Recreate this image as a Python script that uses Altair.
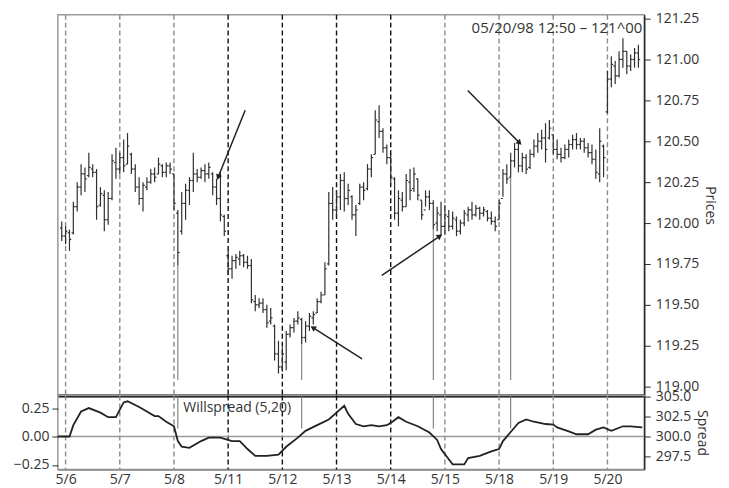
import json
import math
import altair as alt
import pandas as pd

# ---------------- data ----------------
days = ["5/6", "5/7", "5/8", "5/11", "5/12", "5/13", "5/14", "5/15", "5/18", "5/19", "5/20"]
BARS_PER_DAY = 14
FIRST_BAR = -1

high = [120.01, 119.98, 119.96, 120.13, 120.25, 120.36, 120.34, 120.43, 120.36, 120.33,
        120.22, 120.20, 120.19, 120.42, 120.46, 120.43, 120.51, 120.55, 120.43, 120.36,
        120.28, 120.25, 120.28, 120.33, 120.34, 120.40, 120.36, 120.37, 120.37, 120.30,
        120.08, 120.19, 120.24, 120.28, 120.43, 120.33, 120.34, 120.36, 120.37, 120.31,
        120.27, 120.31, 120.05, 119.83, 119.80, 119.81, 119.83, 119.81, 119.80, 119.78,
        119.56, 119.54, 119.54, 119.50, 119.48, 119.38, 119.28, 119.24, 119.34, 119.38,
        119.42, 119.46, 119.42, 119.40, 119.45, 119.46, 119.54, 119.58, 119.76, 120.19,
        120.22, 120.20, 120.30, 120.31, 120.24, 120.17, 120.11, 120.24, 120.25, 120.36,
        120.42, 120.69, 120.72, 120.58, 120.48, 120.42, 120.28, 120.20, 120.19, 120.30,
        120.33, 120.34, 120.27, 120.14, 120.20, 120.20, 120.14, 120.10, 120.13, 120.11,
        120.08, 120.07, 120.04, 120.02, 120.08, 120.10, 120.13, 120.11, 120.10, 120.10,
        120.08, 120.07, 120.04, 120.14, 120.33, 120.36, 120.43, 120.49, 120.49, 120.43,
        120.42, 120.45, 120.51, 120.55, 120.57, 120.61, 120.63, 120.54, 120.51, 120.46,
        120.48, 120.51, 120.54, 120.55, 120.52, 120.52, 120.49, 120.48, 120.45, 120.58,
        120.48, 120.93, 121.02, 120.99, 121.05, 121.13, 121.05, 121.03, 121.07, 121.09]
low = [119.89, 119.87, 119.83, 119.93, 120.07, 120.17, 120.19, 120.28, 120.28, 120.02,
       120.10, 119.95, 119.99, 120.14, 120.27, 120.30, 120.31, 120.36, 120.30, 120.19,
       120.11, 120.07, 120.20, 120.24, 120.25, 120.30, 120.28, 120.28, 120.30, 120.08,
       119.74, 119.93, 120.02, 120.11, 120.19, 120.25, 120.27, 120.25, 120.27, 120.17,
       120.11, 120.01, 119.92, 119.68, 119.66, 119.72, 119.74, 119.73, 119.72, 119.51,
       119.46, 119.48, 119.45, 119.36, 119.38, 119.16, 119.08, 119.09, 119.10, 119.30,
       119.33, 119.38, 119.26, 119.27, 119.34, 119.38, 119.45, 119.51, 119.56, 119.74,
       120.02, 120.04, 120.08, 120.07, 120.11, 120.02, 119.92, 120.11, 120.14, 120.20,
       120.28, 120.42, 120.52, 120.43, 120.36, 120.25, 120.02, 119.98, 120.07, 120.10,
       120.14, 120.19, 120.14, 120.02, 120.10, 120.08, 119.96, 119.95, 119.92, 119.93,
       119.95, 119.96, 119.92, 119.93, 119.98, 120.01, 120.02, 120.04, 120.02, 120.04,
       120.01, 119.99, 119.95, 120.02, 120.16, 120.24, 120.28, 120.34, 120.31, 120.31,
       120.30, 120.33, 120.40, 120.43, 120.45, 120.37, 120.51, 120.42, 120.39, 120.37,
       120.39, 120.40, 120.45, 120.45, 120.45, 120.43, 120.40, 120.36, 120.27, 120.25,
       120.28, 120.67, 120.83, 120.85, 120.89, 120.95, 120.91, 120.93, 120.95, 120.95]
open_ = [119.97, 119.92, 119.94, 119.94, 120.10, 120.22, 120.30, 120.29, 120.33, 120.31,
         120.11, 120.17, 120.02, 120.15, 120.37, 120.33, 120.40, 120.36, 120.42, 120.33,
         120.22, 120.15, 120.22, 120.25, 120.30, 120.30, 120.35, 120.31, 120.35, 120.30,
         120.06, 119.95, 120.12, 120.20, 120.26, 120.30, 120.28, 120.32, 120.30, 120.30,
         120.22, 120.15, 120.04, 119.80, 119.72, 119.77, 119.78, 119.80, 119.76, 119.74,
         119.52, 119.50, 119.51, 119.47, 119.40, 119.37, 119.20, 119.12, 119.15, 119.32,
         119.36, 119.40, 119.41, 119.30, 119.37, 119.42, 119.45, 119.52, 119.56, 119.75,
         120.12, 120.08, 120.16, 120.26, 120.15, 120.16, 120.05, 120.12, 120.22, 120.21,
         120.33, 120.42, 120.62, 120.56, 120.46, 120.40, 120.27, 120.06, 120.14, 120.10,
         120.25, 120.21, 120.27, 120.14, 120.08, 120.16, 120.12, 120.00, 120.05, 119.98,
         120.04, 119.98, 120.02, 119.95, 120.00, 120.05, 120.08, 120.05, 120.09, 120.06,
         120.07, 120.03, 120.01, 120.02, 120.15, 120.30, 120.28, 120.38, 120.45, 120.35,
         120.40, 120.34, 120.42, 120.47, 120.50, 120.52, 120.52, 120.54, 120.45, 120.42,
         120.40, 120.45, 120.48, 120.51, 120.48, 120.50, 120.46, 120.43, 120.39, 120.30,
         120.47, 120.68, 120.88, 120.96, 120.90, 121.00, 121.05, 120.96, 121.00, 121.04]
close = [119.92, 119.95, 119.90, 120.10, 120.22, 120.30, 120.27, 120.34, 120.31, 120.10,
         120.18, 120.02, 120.15, 120.38, 120.33, 120.40, 120.35, 120.47, 120.33, 120.22,
         120.15, 120.23, 120.25, 120.30, 120.28, 120.36, 120.31, 120.35, 120.33, 120.12,
         119.82, 120.12, 120.20, 120.26, 120.30, 120.28, 120.32, 120.30, 120.34, 120.22,
         120.15, 120.05, 119.95, 119.72, 119.77, 119.79, 119.80, 119.76, 119.74, 119.53,
         119.50, 119.51, 119.47, 119.39, 119.42, 119.20, 119.12, 119.20, 119.32, 119.36,
         119.40, 119.42, 119.30, 119.37, 119.43, 119.44, 119.52, 119.56, 119.72, 120.12,
         120.08, 120.16, 120.26, 120.15, 120.20, 120.05, 120.08, 120.22, 120.20, 120.33,
         120.40, 120.63, 120.56, 120.46, 120.40, 120.28, 120.06, 120.15, 120.10, 120.26,
         120.20, 120.30, 120.17, 120.05, 120.16, 120.12, 119.99, 120.06, 119.98, 120.05,
         119.98, 120.03, 119.95, 120.00, 120.06, 120.08, 120.05, 120.09, 120.06, 120.08,
         120.03, 120.01, 119.98, 120.12, 120.30, 120.27, 120.38, 120.45, 120.35, 120.40,
         120.33, 120.42, 120.47, 120.50, 120.52, 120.45, 120.58, 120.45, 120.42, 120.40,
         120.45, 120.48, 120.51, 120.48, 120.50, 120.46, 120.43, 120.39, 120.31, 120.50,
         120.40, 120.88, 120.97, 120.90, 121.00, 121.05, 120.96, 121.00, 121.04, 121.00]

spread_bar = [-2, 1, 2, 4, 6, 9, 11, 13, 15, 16, 19, 21, 23, 24, 26, 28, 29, 30, 32, 35,
              37, 40, 43, 45, 47, 49, 52, 55, 57, 60, 62, 65, 68, 70, 72, 73, 75, 77, 79,
              81, 83, 84, 86, 88, 91, 94, 96, 97, 99, 100, 103, 104, 107, 110, 112, 113,
              115, 117, 119, 121, 124, 126, 127, 130, 132, 135, 137, 139, 141, 144, 146, 149]
spread_val = [0.00, 0.00, 0.10, 0.22, 0.25, 0.21, 0.17, 0.17, 0.30, 0.31, 0.26, 0.22, 0.18,
              0.18, 0.13, 0.09, -0.04, -0.09, -0.10, -0.04, -0.01, -0.01, -0.04, -0.04,
              -0.11, -0.17, -0.17, -0.16, -0.09, -0.01, 0.05, 0.10, 0.15, 0.21, 0.27, 0.20,
              0.11, 0.09, 0.10, 0.09, 0.10, 0.12, 0.17, 0.13, 0.09, 0.035, -0.03, -0.11,
              -0.20, -0.245, -0.245, -0.19, -0.17, -0.13, -0.11, -0.04, 0.04, 0.12, 0.15,
              0.13, 0.11, 0.105, 0.08, 0.045, 0.02, 0.02, 0.06, 0.08, 0.05, 0.09, 0.09, 0.08]

signal_bars = [29, 61, 95, 115]

arrow_tail_bar = [46.4, 76.6, 81.7, 103.9]
arrow_tail_price = [120.69, 119.17, 119.68, 120.81]
arrow_head_bar = [39.4, 63.9, 96.7, 117.3]
arrow_head_price = [120.28, 119.36, 119.92, 120.49]

stamp_text = ["05/20/98 12:50 \u2013 121^00"]
stamp_bar = [149.0]
stamp_price = [121.19]

spread_label = ["Willspread (5,20)"]
spread_label_bar = [30.4]
spread_label_val = [0.255]

price_ticks = [119.00, 119.25, 119.50, 119.75, 120.00, 120.25, 120.50, 120.75, 121.00, 121.25]
spread_ticks = [-0.25, 0.0, 0.25]
spread2_ticks = [297.5, 300.0, 302.5, 305.0]
spread2_zero = [300.0]

# ---------------- layout ----------------
W = 588
H_TOP = 382
H_BOT = 74
X_DOMAIN = [-2, 149.5]
P_DOMAIN = [118.945, 121.274]
S_DOMAIN = [-0.289, 0.36]
S2_DOMAIN = [295.875, 305.125]
FONT = "Open Sans"
INK = "#2a2a2a"

n = len(high)
bars = pd.DataFrame({
    "i": list(range(FIRST_BAR, FIRST_BAR + n)),
    "high": high, "low": low, "open": open_, "close": close,
})
day_df = pd.DataFrame({"i": [k * BARS_PER_DAY for k in range(len(days))], "day": days})
sig_df = bars[bars["i"].isin(signal_bars)].copy()
sig_df["bottom"] = 119.04
sig_df["stop"] = 0.07
sig_df["top"] = S_DOMAIN[1]
spread_df = pd.DataFrame({"i": spread_bar, "s": spread_val})

px_i = W / (X_DOMAIN[1] - X_DOMAIN[0])
px_p = H_TOP / (P_DOMAIN[1] - P_DOMAIN[0])
angles = []
for ti, tp, hi, hp in zip(arrow_tail_bar, arrow_tail_price, arrow_head_bar, arrow_head_price):
    dx = (hi - ti) * px_i
    dy = -(hp - tp) * px_p
    angles.append(math.degrees(math.atan2(dx, -dy)) % 360)
arrow_df = pd.DataFrame({
    "ti": arrow_tail_bar, "tp": arrow_tail_price,
    "i": arrow_head_bar, "hp": arrow_head_price, "ang": angles,
})
stamp_df = pd.DataFrame({"i": stamp_bar, "p": stamp_price, "t": stamp_text})
slabel_df = pd.DataFrame({"i": spread_label_bar, "s": spread_label_val, "t": spread_label})
zero_df = pd.DataFrame({"v": spread2_zero})

x_scale = alt.Scale(domain=X_DOMAIN, nice=False, zero=False)
p_scale = alt.Scale(domain=P_DOMAIN, nice=False, zero=False)
s_scale = alt.Scale(domain=S_DOMAIN, nice=False, zero=False)
s2_scale = alt.Scale(domain=S2_DOMAIN, nice=False, zero=False)

top_x_axis = alt.Axis(labels=False, ticks=False, grid=False, title=None,
                      domainColor="#000000", domainWidth=3)
label_expr = f"{json.dumps(days)}[round(datum.value / {BARS_PER_DAY})]"
bot_x_axis = alt.Axis(values=[k * BARS_PER_DAY for k in range(len(days))],
                      labelExpr=label_expr, ticks=False, grid=False, title=None,
                      domainColor="#8a8a8a", domainWidth=1.5, labelPadding=3)
price_axis = alt.Axis(orient="right", values=price_ticks, format=".2f", title="Prices",
                      grid=False, tickSize=6, labelPadding=5, domainColor=INK,
                      tickColor=INK, domainWidth=1.5, titlePadding=4)
spread_axis = alt.Axis(orient="left", values=spread_ticks, format=".2f", title=None,
                       grid=False, tickSize=6, labelPadding=3, domain=False, tickColor=INK)
spread2_axis = alt.Axis(orient="right", values=spread2_ticks, format=".1f", title="Spread",
                        grid=False, tickSize=6, labelPadding=5, domainColor=INK,
                        tickColor=INK, domainWidth=1.5, titlePadding=4)

day_color = alt.condition(
    alt.FieldOneOfPredicate(field="day", oneOf=["5/11", "5/12", "5/13", "5/14"]),
    alt.value("#111111"), alt.value("#8c8c8c"))


def xt(field="i"):
    return alt.X(f"{field}:Q", scale=x_scale, axis=top_x_axis)


def xb(field="i"):
    return alt.X(f"{field}:Q", scale=x_scale, axis=bot_x_axis)


def py(f):
    return alt.Y(f"{f}:Q", scale=p_scale, axis=price_axis)


BAR_INK = "#303030"

# ---------------- top panel ----------------
t_days = alt.Chart(day_df).mark_rule(strokeDash=[5, 3], strokeWidth=1.4).encode(
    x=xt(), color=day_color)
t_bars = alt.Chart(bars).mark_rule(color=BAR_INK, strokeWidth=1.2).encode(
    x=xt(), y=py("low"), y2="high")
t_open = alt.Chart(bars).mark_rule(color=BAR_INK, strokeWidth=1.2, xOffset=-1.8).encode(
    x=xt(), x2="i", y=py("open"))
t_close = alt.Chart(bars).mark_rule(color=BAR_INK, strokeWidth=1.2, x2Offset=1.8).encode(
    x=xt(), x2="i", y=py("close"))
t_sig = alt.Chart(sig_df).mark_rule(color="#6e6e6e", strokeWidth=1).encode(
    x=xt(), y=py("low"), y2="bottom")
t_arrow = alt.Chart(arrow_df).mark_rule(color="#222222", strokeWidth=1.5).encode(
    x=xt("ti"), x2="i", y=py("tp"), y2="hp")
t_head = alt.Chart(arrow_df).mark_point(shape="triangle-up", filled=True, size=40,
                                        color="#222222", opacity=1).encode(
    x=xt(), y=py("hp"), angle=alt.Angle("ang:Q", scale=None))
t_stamp = alt.Chart(stamp_df).mark_text(align="right", baseline="middle", font=FONT,
                                        fontSize=15, color="#333333").encode(
    x=xt(), y=py("p"), text="t:N")

top = alt.layer(t_days, t_sig, t_bars, t_open, t_close, t_arrow, t_head, t_stamp).properties(
    width=W, height=H_TOP)

# ---------------- bottom panel ----------------
b_days = alt.Chart(day_df).mark_rule(strokeDash=[5, 3], strokeWidth=1.4).encode(
    x=xb(), color=day_color)
b_zero = alt.Chart(zero_df).mark_rule(color="#9a9a9a", strokeWidth=1.5).encode(
    y=alt.Y("v:Q", scale=s2_scale, axis=spread2_axis))
b_sig = alt.Chart(sig_df).mark_rule(color="#6e6e6e", strokeWidth=1).encode(
    x=xb(), y=alt.Y("top:Q", scale=s_scale, axis=None), y2="stop")
b_line = alt.Chart(spread_df).mark_line(color="#222222", strokeWidth=1.8).encode(
    x=xb(), y=alt.Y("s:Q", scale=s_scale, axis=spread_axis))
b_label = alt.Chart(slabel_df).mark_text(align="left", baseline="middle", font=FONT,
                                         fontSize=14, color="#333333").encode(
    x=xb(), y=alt.Y("s:Q", scale=s_scale, axis=None), text="t:N")

bottom = alt.layer(b_days, b_zero, b_sig, b_line, b_label).resolve_scale(
    y="independent").properties(width=W, height=H_BOT)

chart = alt.vconcat(top, bottom, spacing=0, bounds="flush").properties(
    padding={"left": 4, "top": 2, "right": 3, "bottom": 0}
).configure_axis(
    labelFont=FONT, titleFont=FONT, labelFontSize=14, titleFontSize=14,
    labelColor="#333333", titleColor="#333333", titleFontWeight="normal"
).configure_view(stroke="#9a9a9a", strokeWidth=1.5)

chart.save("out.html", embed_options={"renderer": "svg", "actions": False})
